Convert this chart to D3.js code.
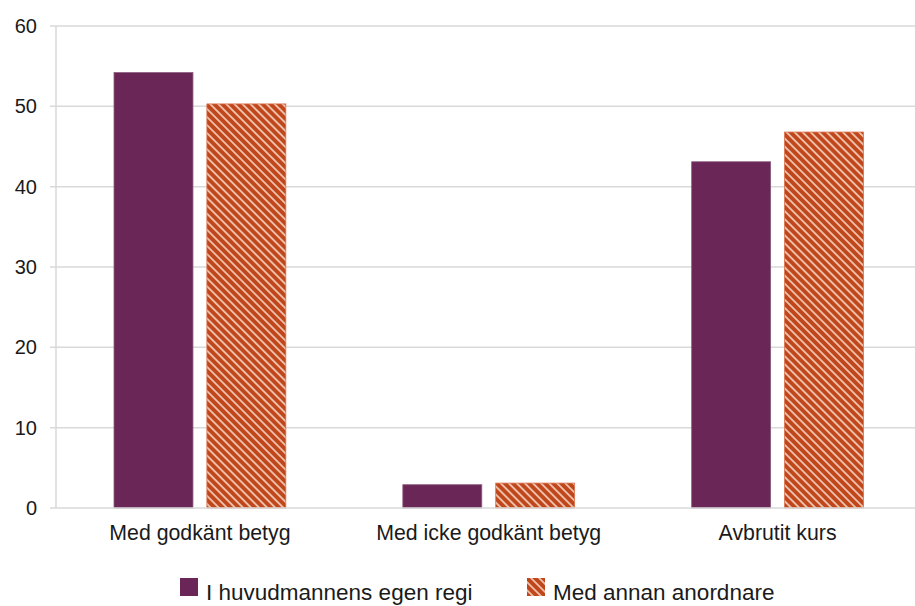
<!DOCTYPE html>
<html lang="sv">
<head>
<meta charset="utf-8">
<title>Kursresultat</title>
<style>
  body { margin: 0; background: #fff; }
  text { font-family: "Liberation Sans", Arial, sans-serif; fill: #1a1a1a; }
</style>
</head>
<body>
<script src="https://cdn.jsdelivr.net/npm/d3@7"></script>
<script>
// data
var categories = ["Med godkänt betyg", "Med icke godkänt betyg", "Avbrutit kurs"];
var seriesNames = ["I huvudmannens egen regi", "Med annan anordnare"];
var egenRegi = [54.2, 2.9, 43.1];
var annanAnordnare = [50.3, 3.1, 46.8];
var yTicks = [0, 10, 20, 30, 40, 50, 60];

var w = 915, h = 606;
var svg = d3.select("body").append("svg").attr("width", w).attr("height", h);

// stripe pattern (\ direction)
var defs = svg.append("defs");
var pat = defs.append("pattern")
    .attr("id", "stripes")
    .attr("patternUnits", "userSpaceOnUse")
    .attr("width", 5.7).attr("height", 5.7)
    .attr("patternTransform", "rotate(-45)");
pat.append("rect").attr("width", 5.7).attr("height", 5.7).attr("fill", "#C0461C");
pat.append("rect").attr("x", 0).attr("width", 1.9).attr("height", 5.7).attr("fill", "#EDBFA8");

var x0 = d3.scaleBand().domain(categories).range([55.5, 922]);
var x1 = d3.scaleBand().domain(seriesNames).range([0, x0.bandwidth()]).paddingInner(0.15).paddingOuter(0.63);
var y = d3.scaleLinear().domain([0, 60]).range([508, 26]);

// grid
svg.append("g").selectAll("line").data(yTicks.slice(1)).enter().append("line")
   .attr("x1", 50).attr("x2", w)
   .attr("y1", function(d) { return y(d); }).attr("y2", function(d) { return y(d); })
   .attr("stroke", "#d9d9d9").attr("stroke-width", 1.5);

svg.append("line").attr("x1", 56).attr("x2", 56).attr("y1", y(60)).attr("y2", y(0))
   .attr("stroke", "#d9d9d9").attr("stroke-width", 1.5);

// y labels
svg.append("g").selectAll("text").data(yTicks).enter().append("text")
   .attr("x", 37).attr("y", function(d) { return y(d) + 7; })
   .attr("text-anchor", "end").attr("font-size", "20px")
   .text(function(d) { return d; });

// bars
var fills = ["#6A2657", "url(#stripes)"];
var seriesVals = [egenRegi, annanAnordnare];
seriesNames.forEach(function(s, si) {
  svg.append("g").selectAll("rect").data(categories).enter().append("rect")
     .attr("x", function(c) { return x0(c) + x1(s); })
     .attr("width", x1.bandwidth())
     .attr("y", function(c, i) { return y(seriesVals[si][i]); })
     .attr("height", function(c, i) { return y(0) - y(seriesVals[si][i]); })
     .attr("fill", fills[si])
     .attr("stroke", si == 0 ? "#8a5a7c" : "#D9704A").attr("stroke-width", 0.8);
});

// baseline
svg.append("line").attr("x1", 50).attr("x2", w).attr("y1", y(0)).attr("y2", y(0))
   .attr("stroke", "#d9d9d9").attr("stroke-width", 1.5);

// category labels
svg.append("g").selectAll("text").data(categories).enter().append("text")
   .attr("x", function(c) { return x0(c) + x0.bandwidth() / 2; })
   .attr("y", 540).attr("text-anchor", "middle").attr("font-size", "21.3px")
   .text(function(c) { return c; });

// legend
var legX = [180, 527];
seriesNames.forEach(function(s, si) {
  svg.append("rect").attr("x", legX[si]).attr("y", 578).attr("width", 18).attr("height", 18)
     .attr("fill", fills[si]);
  svg.append("text").attr("x", legX[si] + 26).attr("y", 600).attr("font-size", "22.5px").text(s);
});
</script>
</body>
</html>
